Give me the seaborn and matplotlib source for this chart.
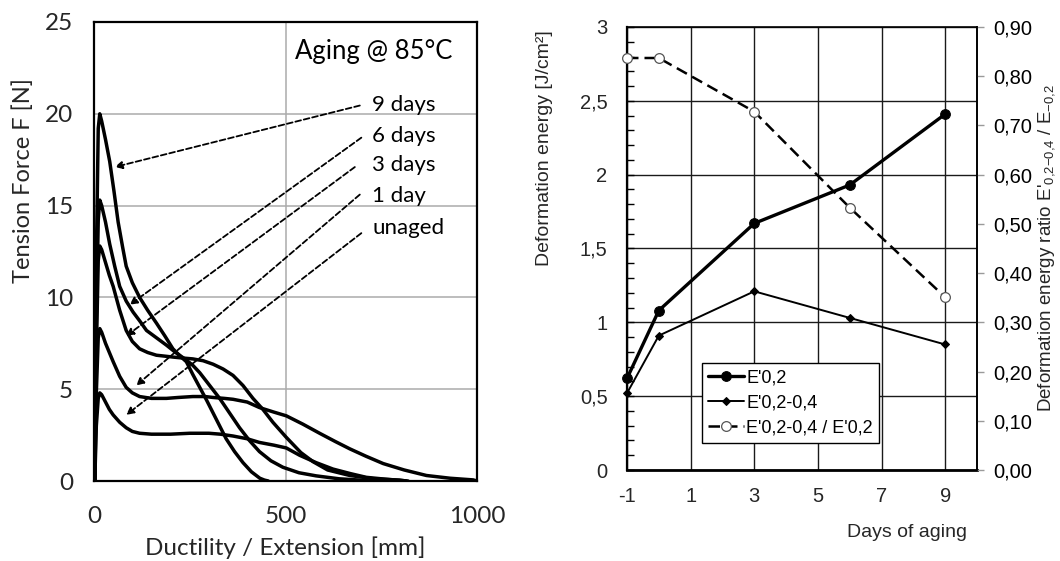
import numpy as np
import pandas as pd
import matplotlib
matplotlib.use("Agg")
import matplotlib.pyplot as plt
import seaborn as sns
from matplotlib.ticker import MultipleLocator, FixedLocator, FuncFormatter

# ---------------- data: left panel (tension curves) ----------------
curve_names = ["9 days", "6 days", "3 days", "1 day", "unaged"]

x_9d = [2, 6, 11, 15, 20, 30, 41, 52, 63, 75, 84, 100, 119, 140, 163, 185, 206, 225, 241,
        258, 276, 294, 311, 328, 345, 367, 389, 411, 433, 445, 455]
y_9d = [0, 12, 19.2, 20, 19.6, 18.6, 17.4, 15.8, 14.1, 12.7, 11.7, 10.8, 10.0, 9.3, 8.6, 7.9,
        7.2, 6.8, 6.5, 5.8, 5.1, 4.4, 3.7, 3.0, 2.3, 1.6, 1.0, 0.5, 0.15, 0.05, 0]

x_6d = [2, 6, 11, 15, 20, 30, 41, 54, 67, 84, 102, 120, 137, 163, 189, 213, 237, 258, 276,
        302, 328, 354, 380, 406, 432, 462, 493, 535, 580, 640, 694, 720]
y_6d = [0, 8.5, 14.2, 15.3, 15.0, 14.1, 12.9, 11.7, 10.6, 9.8, 9.2, 8.7, 8.2, 7.8, 7.4, 7.0,
        6.65, 6.3, 5.9, 5.2, 4.5, 3.7, 2.9, 2.2, 1.6, 1.1, 0.75, 0.45, 0.28, 0.12, 0.05, 0]

x_3d = [2, 6, 11, 15, 20, 30, 40, 50, 67, 84, 100, 119, 140, 163, 185, 206, 230, 258, 285,
        311, 337, 363, 389, 415, 441, 467, 501, 540, 572, 610, 668, 730, 798, 815]
y_3d = [0, 7, 12, 12.8, 12.6, 11.9, 11.2, 10.6, 9.3, 8.2, 7.6, 7.2, 7.0, 6.85, 6.8, 6.75,
        6.7, 6.65, 6.55, 6.36, 6.1, 5.75, 5.2, 4.5, 3.9, 3.2, 2.4, 1.55, 1.05, 0.6, 0.3, 0.12,
        0.05, 0]

x_1d = [2, 6, 11, 15, 20, 30, 40, 50, 67, 84, 100, 119, 150, 189, 220, 258, 290, 311, 340,
        363, 400, 432, 470, 502, 545, 589, 630, 668, 710, 755, 810, 868, 930, 990, 1000]
y_1d = [0, 4.8, 7.8, 8.3, 8.1, 7.5, 7.0, 6.5, 5.7, 5.1, 4.8, 4.6, 4.5, 4.5, 4.55, 4.6, 4.6,
        4.55, 4.5, 4.45, 4.3, 4.0, 3.75, 3.55, 3.1, 2.6, 2.15, 1.75, 1.35, 0.95, 0.6, 0.3,
        0.15, 0.06, 0]

x_ua = [2, 6, 11, 15, 20, 30, 40, 50, 67, 84, 100, 119, 150, 200, 250, 300, 330, 363, 400,
        432, 470, 502, 537, 580, 624, 670, 711, 760, 800, 820]
y_ua = [0, 3, 4.5, 4.8, 4.7, 4.3, 3.9, 3.6, 3.2, 2.9, 2.7, 2.6, 2.55, 2.55, 2.6, 2.6, 2.55,
        2.45, 2.3, 2.1, 1.95, 1.8, 1.4, 1.0, 0.65, 0.4, 0.2, 0.1, 0.03, 0]

curve_x = [x_9d, x_6d, x_3d, x_1d, x_ua]
curve_y = [y_9d, y_6d, y_3d, y_1d, y_ua]

# annotation label positions and arrows (data coords)
label_x = 726
label_y = [20.5, 18.8, 17.2, 15.5, 13.8]
arrow_start = [(694, 20.45), (698, 18.7), (681, 17.1), (694, 15.6), (698, 13.5)]
arrow_end = [(54, 17.1), (93, 9.6), (84, 7.9), (110, 5.2), (84, 3.6)]

# ---------------- data: right panel ----------------
days = [-1, 0, 3, 6, 9]
e_02 = [0.62, 1.08, 1.67, 1.93, 2.41]
e_02_04 = [0.52, 0.91, 1.21, 1.03, 0.85]
ratio = [0.837, 0.837, 0.728, 0.533, 0.351]
series_labels = ["E'0,2", "E'0,2-0,4", "E'0,2-0,4 / E'0,2"]

left_xticks = [0, 500, 1000]
left_yticks = [0, 5, 10, 15, 20, 25]
right_xticks = [-1, 1, 3, 5, 7, 9]
right_yticks = [0, 0.5, 1, 1.5, 2, 2.5, 3]
ratio_ticks = [0.0, 0.1, 0.2, 0.3, 0.4, 0.5, 0.6, 0.7, 0.8, 0.9]

# ---------------- style ----------------
sns.set_theme(style="white")
plt.rcParams["font.family"] = ["Liberation Sans", "DejaVu Sans"]
plt.rcParams["mathtext.fontset"] = "custom"
plt.rcParams["mathtext.rm"] = "Liberation Sans"
plt.rcParams["mathtext.it"] = "Liberation Sans"
plt.rcParams["axes.edgecolor"] = "black"
plt.rcParams["text.color"] = "black"
plt.rcParams["axes.unicode_minus"] = False
LEFT_FONT = ["Lato", "DejaVu Sans"]

fig = plt.figure(figsize=(10.6, 5.61), dpi=100)

# ================= left panel =================
ax1 = fig.add_axes([0.0887, 0.1426, 0.3613, 0.8182])
df_left = pd.concat(
    [pd.DataFrame({"x": cx, "y": cy, "curve": name})
     for name, cx, cy in zip(curve_names, curve_x, curve_y)],
    ignore_index=True)
for name in curve_names:
    sub = df_left[df_left["curve"] == name]
    sns.lineplot(data=sub, x="x", y="y", ax=ax1, color="black", lw=2.5,
                 sort=False, estimator=None, legend=False)

ax1.set_xlim(0, 1000)
ax1.set_ylim(0, 25)
ax1.xaxis.set_major_locator(FixedLocator(left_xticks))
ax1.yaxis.set_major_locator(FixedLocator(left_yticks))
ax1.xaxis.set_minor_locator(MultipleLocator(100))
ax1.yaxis.set_minor_locator(MultipleLocator(1))
ax1.tick_params(which="both", direction="in", top=False, right=False,
                color="black", width=1.2)
ax1.tick_params(which="major", length=0, labelsize=17.5)
ax1.tick_params(which="minor", length=5)
ax1.tick_params(axis="y", which="major", pad=15)
ax1.tick_params(axis="x", which="major", pad=18)
for lab in ax1.get_xticklabels() + ax1.get_yticklabels():
    lab.set_family(LEFT_FONT)
ax1.grid(True, which="major", color="#ababab", lw=1.1)
ax1.set_axisbelow(True)
for sp in ax1.spines.values():
    sp.set_linewidth(1.6)
    sp.set_color("black")

ax1.set_xlabel("Ductility / Extension [mm]", fontsize=17.5, family=LEFT_FONT)
ax1.set_ylabel("Tension Force F [N]", fontsize=17, family=LEFT_FONT)
ax1.xaxis.label.set_va("center")
ax1.yaxis.label.set_va("center")
ax1.xaxis.set_label_coords(0.499, -0.146)
ax1.yaxis.set_label_coords(-0.185, 0.654)

ax1.text(525, 23.4, "Aging @ 85°C", fontsize=18.5, family=LEFT_FONT,
         ha="left", va="center")
for name, ly, (sx, sy), (ex, ey) in zip(curve_names, label_y, arrow_start, arrow_end):
    ax1.text(label_x, ly, name, fontsize=16, family=LEFT_FONT, ha="left", va="center")
    ax1.annotate("", xy=(ex, ey), xytext=(sx, sy),
                 arrowprops=dict(arrowstyle="-|>", lw=1.3, ls=(0, (3.2, 1.6)),
                                 color="black", mutation_scale=11,
                                 shrinkA=0, shrinkB=0))

# ================= right panel =================
ax2 = fig.add_axes([0.5915, 0.1622, 0.3302, 0.7897])
sns.lineplot(x=days, y=e_02, ax=ax2, color="black", lw=2.4, marker="o",
             markersize=7, markeredgecolor="black", label=series_labels[0],
             legend=False, clip_on=False, zorder=4)
sns.lineplot(x=days, y=e_02_04, ax=ax2, color="black", lw=1.4, marker="D",
             markersize=4, markeredgecolor="black", label=series_labels[1],
             legend=False, clip_on=False, zorder=4)
ax2.set_xlim(-1, 10)
ax2.set_ylim(0, 3)
ax2.xaxis.set_major_locator(FixedLocator(right_xticks))
ax2.yaxis.set_major_locator(FixedLocator(right_yticks))
ax2.xaxis.set_minor_locator(MultipleLocator(0.4, offset=0.2))
ax2.yaxis.set_minor_locator(MultipleLocator(0.1))
ax2.yaxis.set_major_formatter(FuncFormatter(lambda v, p: (f"{v:g}").replace(".", ",")))
ax2.tick_params(which="both", direction="in", top=False, right=False,
                color="black", width=1.0)
ax2.tick_params(which="major", length=5, labelsize=14.5)
ax2.tick_params(which="minor", length=5)
ax2.tick_params(axis="y", which="major", pad=14)
ax2.tick_params(axis="x", which="major", pad=12)
ax2.grid(True, which="major", color="#1a1a1a", lw=1.0)
ax2.set_axisbelow(True)
ax2.spines["left"].set_linewidth(1.6)
ax2.spines["bottom"].set_linewidth(2.0)
ax2.spines["top"].set_linewidth(1.2)
ax2.spines["right"].set_linewidth(1.2)

ax2.set_xlabel("Days of aging", fontsize=14)
ax2.set_ylabel("Deformation energy [J/cm²]", fontsize=14)
ax2.xaxis.label.set_va("center")
ax2.yaxis.label.set_va("center")
ax2.xaxis.set_label_coords(0.80, -0.142)
ax2.yaxis.set_label_coords(-0.237, 0.727)

ax3 = ax2.twinx()
sns.lineplot(x=days, y=ratio, ax=ax3, color="black", lw=1.8, ls=(0, (4.6, 2.4)),
             marker="o", markersize=7, markerfacecolor="white",
             markeredgecolor="#555555", markeredgewidth=0.9,
             label=series_labels[2], legend=False, clip_on=False)
ax3.set_ylim(0, 0.9)
ax3.yaxis.set_major_locator(FixedLocator(ratio_ticks))
ax3.yaxis.set_major_formatter(FuncFormatter(lambda v, p: f"{v:.2f}".replace(".", ",")))
ax3.tick_params(axis="y", which="major", direction="out", length=5, width=1.0,
                color="#9a9a9a", labelsize=14.5, pad=7, labelcolor="black")
for s in ["left", "top", "bottom"]:
    ax3.spines[s].set_visible(False)
ax3.spines["right"].set_linewidth(1.2)
ax3.set_ylabel(r"Deformation energy ratio E'$_{\mathrm{0{,}2{-}0{,}4}}$ / E$_{\mathrm{{-}0{,}2}}$",
               fontsize=13.5)
ax3.yaxis.label.set_va("center")
ax3.yaxis.set_label_coords(1.198, 0.5)

handles = ax2.lines + ax3.lines
leg = ax3.legend(handles=handles, labels=series_labels, loc="lower left",
                 bbox_to_anchor=(0.214, 0.061), borderaxespad=0, fontsize=13,
                 frameon=True, fancybox=False, edgecolor="black", framealpha=1,
                 handlelength=2.0, handletextpad=0.1, labelspacing=0.45,
                 borderpad=0.35, numpoints=1)
leg.get_frame().set_linewidth(1.0)
leg.set_zorder(10)

fig.savefig("out.png", dpi=100)
